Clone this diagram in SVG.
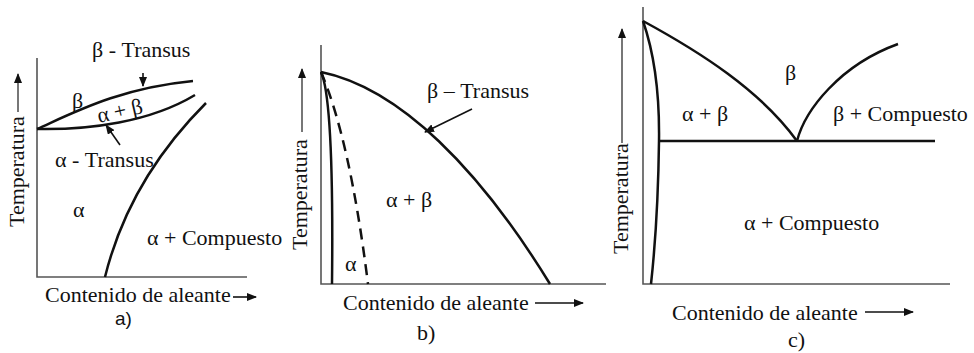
<svg xmlns="http://www.w3.org/2000/svg" width="974" height="353" viewBox="0 0 974 353">
<defs>
<marker id="ah" markerWidth="10" markerHeight="8" refX="9" refY="4" orient="auto" markerUnits="userSpaceOnUse">
<path d="M0,0 L10,4 L0,8 Z" fill="#111"/>
</marker>
<style>
text{font-family:'Liberation Serif','Times New Roman','DejaVu Serif',serif;font-size:22px;fill:#111}
text.sans{font-family:'Liberation Sans',Arial,sans-serif;font-size:19px}
.axis{stroke:#555;stroke-width:1.6;fill:none}
.curve{stroke:#111;stroke-width:2.5;fill:none}
.arr{stroke:#111;stroke-width:1.6;fill:none;marker-end:url(#ah)}
.arrg{stroke:#555;stroke-width:1.6;fill:none;marker-end:url(#ah)}
.dash{stroke:#111;stroke-width:2.5;fill:none;stroke-dasharray:11 7}
</style>
</defs>
<rect width="974" height="353" fill="#fff"/>

<g id="panel-a" font-family="Liberation Serif, serif">
<path class="axis" d="M37,58 L37,277 L247,277"/>
<path class="curve" d="M37,129 C75,112 120,88 193,81"/>
<path class="curve" d="M37,129 C90,130 150,122 195,95"/>
<path class="curve" d="M105,277 Q129,180 206,103"/>
<text x="92" y="57">β - Transus</text>
<text x="72" y="108">β</text>
<text transform="translate(99,123) rotate(-13)">α + β</text>
<text x="55" y="167">α - Transus</text>
<text x="73" y="217">α</text>
<text x="147" y="245">α + Compuesto</text>
<text x="45" y="302">Contenido de aleante</text>
<text transform="translate(24,227) rotate(-90)">Temperatura</text>
<text class="sans" x="115" y="325">a)</text>
</g>

<g id="panel-b" font-family="Liberation Serif, serif">
<path class="axis" d="M321,45 L321,284 L606,284"/>
<path class="curve" d="M321,72 C400,88 480,170 550,284"/>
<path class="curve" d="M321,72 Q334,100 332,284"/>
<path class="dash" d="M321,72 Q350,140 368,284"/>
<text x="427" y="98">β – Transus</text>
<text x="386" y="207">α + β</text>
<text x="345" y="271">α</text>
<text x="343" y="310">Contenido de aleante</text>
<text transform="translate(307,250) rotate(-90)">Temperatura</text>
<text x="417" y="340">b)</text>
</g>

<g id="panel-c" font-family="Liberation Serif, serif">
<path class="axis" d="M643,7 L643,284 L950,284"/>
<path class="curve" d="M643,21 C700,52 760,90 797,141"/>
<path class="curve" d="M797,141 C805,110 840,65 898,44"/>
<path class="curve" d="M658,141 L935,141"/>
<path class="curve" d="M643,21 Q660,70 659,141 Q658,220 651,284"/>
<text x="785" y="80">β</text>
<text x="682" y="121">α + β</text>
<text x="833" y="121">β + Compuesto</text>
<text x="744" y="230">α + Compuesto</text>
<text x="672" y="320">Contenido de aleante</text>
<text transform="translate(628,254) rotate(-90)">Temperatura</text>
<text x="788" y="347">c)</text>
</g>

<g id="connectors">
<path class="arrg" d="M18,112 L18,74"/>
<path class="arr" d="M233,297 L256,297"/>
<path class="arr" d="M143,73 L143,86"/>
<path class="arr" d="M120,145 L106,125"/>
<path class="arrg" d="M302,132 L302,69"/>
<path class="arr" d="M535,303 L583,303"/>
<path class="arr" d="M472,109 L425,132"/>
<path class="arrg" d="M622,143 L622,29"/>
<path class="arr" d="M865,312 L913,312"/>
</g>
</svg>
